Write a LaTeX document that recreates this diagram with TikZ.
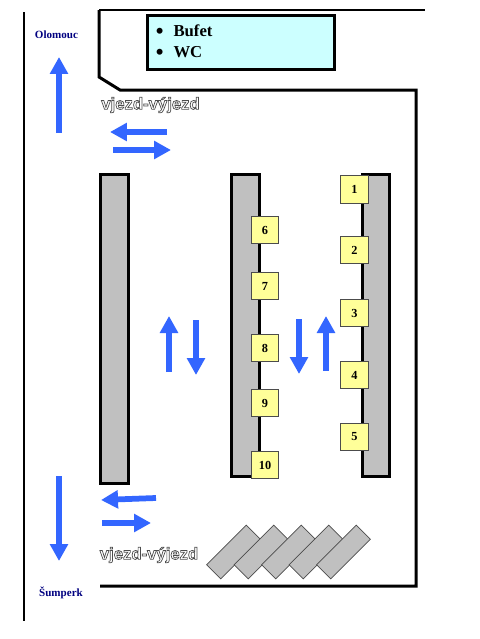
\documentclass[tikz,border=0pt]{standalone}
\usepackage{fontspec}
\setmainfont{Liberation Serif}
\newfontfamily\arialfont{Liberation Sans}
\usetikzlibrary{arrows.meta}
\definecolor{flowblue}{RGB}{51,102,255}
\definecolor{standgray}{RGB}{192,192,192}
\definecolor{stopyellow}{RGB}{255,255,153}
\definecolor{buffetcyan}{RGB}{204,255,255}
\definecolor{cityblue}{RGB}{0,0,128}
\newcommand{\hollowtext}[1]{\special{pdf:code q 1 Tr 0.4 w 0.3 0.3 0.3 RG}#1\special{pdf:code Q}}
\newcommand{\bigbullet}{\raisebox{-0.04cm}{\fontsize{12.5}{12}\selectfont\textbullet}}

\begin{document}
\begin{tikzpicture}[
    x=0.02cm, y=-0.02cm,
    wall/.style={draw=black, line width=0.06cm, line join=miter},
    flow/.style={draw=flowblue, line width=0.115cm, -{Triangle[width=0.35cm,length=0.34cm]}},
    platform/.style={draw=black, line width=0.06cm, fill=standgray},
    stopbox/.style={draw=black!70, fill=stopyellow, minimum size=0.55cm, inner sep=0pt, line width=0.4pt, font=\fontsize{7}{8}\selectfont\bfseries},
    bay/.style={draw=black!70, fill=standgray, rotate=-45, minimum width=0.4cm, minimum height=1.12cm, inner sep=0pt, line width=0.4pt},
    city/.style={text=cityblue, inner sep=0pt, font=\fontsize{6.3}{8}\selectfont\bfseries},
    lane/.style={inner sep=0pt, font=\arialfont\fontsize{9.5}{11}\selectfont\bfseries}
  ]
    \useasboundingbox (0,0) rectangle (480,639);
    % road edge and station outline
    \draw[wall] (24,12) -- (24,621);
    \draw[draw=black, line width=0.04cm] (99,10) -- (425,10);
    \draw[wall] (99,10) -- (99,77) -- (120,90) -- (416,90) -- (416,586) -- (100,586);
    % buffet
    \node[draw=black, line width=0.06cm, fill=buffetcyan, minimum width=3.74cm, minimum height=1.08cm, inner sep=0pt] (buffet) at (241,42.5) {};
    \node[anchor=west, inner sep=0pt, align=left, font=\fontsize{9.5}{12}\selectfont\bfseries] (services) at (155.5,42) {\bigbullet\hspace{0.2cm}Bufet\\\bigbullet\hspace{0.2cm}WC};
    % platforms
    \draw[platform] (100,174) rectangle (128,483);
    \draw[platform] (231,174) rectangle (259,476);
    \draw[platform] (362,174) rectangle (389,476);
    % stops
    \foreach \num/\ypos in {1/189.5,2/250,3/313,4/375,5/437}
      \node[stopbox] (stop\num) at (354.5,\ypos) {\num};
    \foreach \num/\ypos in {6/230,7/286,8/348,9/403,10/465}
      \node[stopbox] (stop\num) at (265,\ypos) {\num};
    % parking bays
    \foreach \i in {0,...,4}
      \node[bay] (bay\i) at (233.5+27.5*\i,552) {};
    % traffic directions
    \draw[flow] (59,133) -- (59,57);
    \draw[flow] (59,476) -- (59,561);
    \draw[flow] (167,132) -- (110,132);
    \draw[flow] (113,150) -- (171,150);
    \draw[flow] (156,498) -- (101,500);
    \draw[flow] (102,523) -- (151,523);
    \draw[flow] (169,372) -- (169,316);
    \draw[flow] (196,320) -- (196,375);
    \draw[flow] (299,319) -- (299,374);
    \draw[flow] (326,371) -- (326,316);
    % labels
    \node[city] (olomouc) at (56.5,34.5) {Olomouc};
    \node[city] (sumperk) at (61,592.5) {Šumperk};
    \node[lane] (entrytop) at (150.5,105) {\hollowtext{vjezd-výjezd}};
    \node[lane] (entrybottom) at (149,555) {\hollowtext{vjezd-výjezd}};
  \end{tikzpicture}
\end{document}
